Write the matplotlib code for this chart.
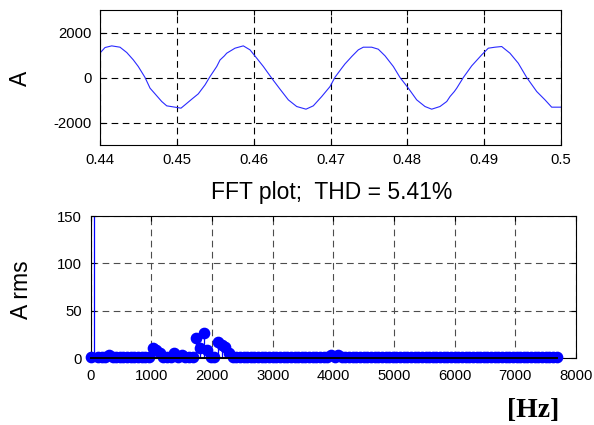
import numpy as np
import matplotlib
matplotlib.use('Agg')
import matplotlib.pyplot as plt

plt.rcParams['font.family'] = ['Liberation Sans', 'DejaVu Sans']
plt.rcParams['axes.unicode_minus'] = False

# --- waveform (time in s, current in A) ---
t_wave = [0.44000, 0.44065, 0.44152, 0.44260, 0.44348, 0.44433, 0.44498, 0.44586,
          0.44651, 0.44716, 0.44803, 0.44868, 0.44976, 0.45054, 0.45106, 0.45194,
          0.45279, 0.45367, 0.45432, 0.45519, 0.45562, 0.45618, 0.45649, 0.45757,
          0.45865, 0.45952, 0.46040, 0.46126, 0.46235, 0.46343, 0.46451, 0.46560,
          0.46681, 0.46776, 0.46886, 0.46994, 0.47059, 0.47146, 0.47189, 0.47245,
          0.47276, 0.47362, 0.47427, 0.47536, 0.47622, 0.47710, 0.47818, 0.47905,
          0.48013, 0.48122, 0.48230, 0.48317, 0.48425, 0.48513, 0.48556, 0.48612,
          0.48643, 0.48729, 0.48838, 0.48968, 0.49054, 0.49141, 0.49228, 0.49336,
          0.49444, 0.49554, 0.49684, 0.49792, 0.49879, 0.49922, 0.50000]
i_wave = [1090, 1333, 1407, 1348, 1111, 785, 489, 0,
          -474, -726, -1066, -1259, -1318, -1362, -1215, -963,
          -726, -326, 44, 489, 780, 960, 1081, 1304,
          1407, 1230, 859, 489, -30, -518, -993, -1289,
          -1407, -1259, -844, -400, 15, 415, 607, 815,
          933, 1230, 1348, 1348, 1259, 963, 489, 0,
          -474, -993, -1289, -1407, -1289, -1066, -844, -622,
          -474, 0, 518, 1007, 1304, 1348, 1378, 1081,
          637, 0, -622, -993, -1318, -1318, -1318]

# --- FFT spectrum: harmonics of 60 Hz up to order 128 ---
fund_freq = 60
max_order = 128
floor_amp = 1.5
peak_freq = [0, 60, 300, 1020, 1080, 1140, 1380, 1500, 1740, 1800, 1860, 1920,
             2100, 2160, 2220, 2280, 3960, 4080]
peak_amp = [1.5, 990, 3, 11, 9, 5.5, 6, 3.5, 21, 11, 27, 9,
            17.5, 14, 12, 6, 3, 3]

freqs = np.arange(max_order + 1) * fund_freq
amps = np.full(len(freqs), floor_amp)
for f, a in zip(peak_freq, peak_amp):
    amps[int(round(f / fund_freq))] = a

fig = plt.figure(figsize=(5.94, 4.25), dpi=100)

tick_fs = 10.7
lab_fs = 16.5

# top: waveform
ax1 = fig.add_axes([0.1684, 0.6588, 0.776, 0.3176])
ax1.plot(t_wave, i_wave, color='#2a2aff', lw=0.8)
ax1.set_xlim(0.44, 0.5)
ax1.set_ylim(-3000, 3000)
ax1.set_xticks([0.44, 0.45, 0.46, 0.47, 0.48, 0.49, 0.5])
ax1.set_xticklabels(['0.44', '0.45', '0.46', '0.47', '0.48', '0.49', '0.5'])
ax1.set_yticks([-2000, 0, 2000])
ax1.grid(True, color='k', ls=(0, (6, 4)), lw=0.8)
ax1.tick_params(direction='in', top=True, right=True, length=3.5,
                labelsize=tick_fs, pad=6)

# bottom: spectrum
ax2 = fig.add_axes([0.1527, 0.1569, 0.817, 0.3348])
ml, sl, bl = ax2.stem(freqs, amps, basefmt='k-')
plt.setp(sl, color='#0000ff', lw=0.9)
plt.setp(ml, color='#0000ff', marker='o', markersize=7.4, clip_on=False, zorder=3)
plt.setp(bl, color='k', lw=1.4, zorder=4, clip_on=False)
ax2.set_xlim(0, 8000)
ax2.set_ylim(0, 150)
ax2.set_xticks(range(0, 8001, 1000))
ax2.set_yticks([0, 50, 100, 150])
ax2.grid(True, color='0.3', ls=(0, (6, 4)), lw=0.8)
ax2.tick_params(direction='in', top=True, right=True, length=3.5,
                labelsize=tick_fs)
ax2.tick_params(axis='x', pad=7.5)
ax2.tick_params(axis='y', pad=6.5)

for ax in (ax1, ax2):
    ax.set_axisbelow(True)
    for s in ax.spines.values():
        s.set_linewidth(0.8)

fig.text(0.0345, 0.8165, 'A', rotation=90, ha='center', va='center', fontsize=lab_fs)
fig.text(0.037, 0.3176, 'A rms', rotation=90, ha='center', va='center', fontsize=lab_fs)
fig.text(0.558, 0.532, 'FFT plot;  THD = 5.41%', ha='center', va='baseline',
         fontsize=lab_fs)
fig.text(0.897, 0.033, '[Hz]', ha='center', va='center', fontsize=20,
         family='Liberation Serif', fontweight='bold')

fig.savefig('out.png', dpi=100)
